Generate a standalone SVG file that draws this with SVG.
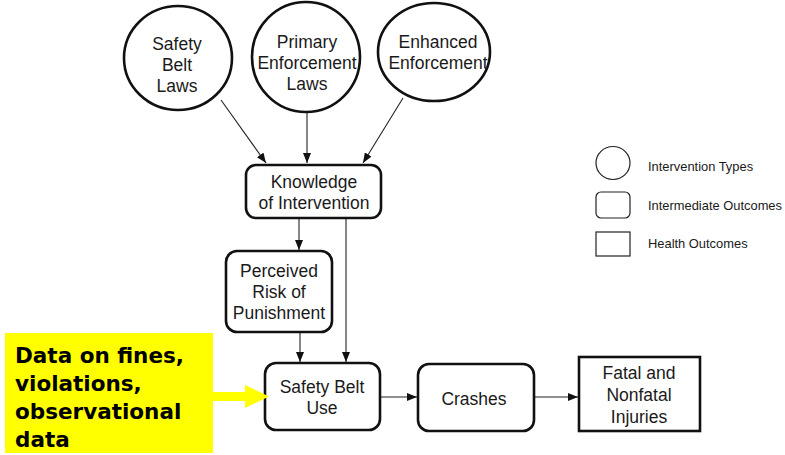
<svg xmlns="http://www.w3.org/2000/svg" width="785" height="455" viewBox="0 0 785 455">
  <style>
    .node { fill: #fff; stroke: #111; stroke-width: 2.6; }
    .leg { fill: #fff; stroke: #222; stroke-width: 1.2; }
    .lbl { font-family: "Liberation Sans", Arial, sans-serif; font-size: 17.5px; fill: #1a1a1a; text-anchor: middle; }
    .legtxt { font-family: "Liberation Sans", Arial, sans-serif; font-size: 12.9px; fill: #1a1a1a; }
    .edge { fill: none; stroke: #222; stroke-width: 1.1; marker-end: url(#head); }
    .note { font-family: "DejaVu Sans", Verdana, sans-serif; font-weight: bold; font-size: 21.5px; fill: #000; }
  </style>
  <defs>
    <marker id="head" viewBox="0 0 10 8" refX="10" refY="4" markerWidth="10" markerHeight="8" markerUnits="userSpaceOnUse" orient="auto">
      <path d="M0,0 L10,4 L0,8 Z" fill="#111"/>
    </marker>
  </defs>
  <rect width="785" height="455" fill="#fff"/>

  <!-- connectors -->
  <g id="connectors">
    <line class="edge" x1="221" y1="100" x2="266" y2="163"/>
    <line class="edge" x1="307" y1="113" x2="307" y2="163"/>
    <line class="edge" x1="403" y1="98" x2="363" y2="163"/>
    <line class="edge" x1="299" y1="218" x2="299" y2="250"/>
    <line class="edge" x1="300" y1="332" x2="300" y2="362"/>
    <line class="edge" x1="346" y1="218" x2="346" y2="362"/>
    <line class="edge" x1="380" y1="397" x2="417" y2="397"/>
    <line class="edge" x1="534" y1="397" x2="578" y2="397"/>
  </g>

  <!-- intervention types -->
  <g id="safety-belt-laws">
    <ellipse class="node" cx="178" cy="58" rx="54" ry="52" stroke-width="3"/>
    <text class="lbl" x="177" y="50">Safety</text>
    <text class="lbl" x="177" y="71">Belt</text>
    <text class="lbl" x="177" y="92">Laws</text>
  </g>
  <g id="primary-enforcement-laws">
    <ellipse class="node" cx="306" cy="57" rx="54" ry="55" stroke-width="3"/>
    <text class="lbl" x="307" y="48">Primary</text>
    <text class="lbl" x="307" y="69">Enforcement</text>
    <text class="lbl" x="307" y="90">Laws</text>
  </g>
  <g id="enhanced-enforcement">
    <ellipse class="node" cx="434" cy="52" rx="56" ry="49" stroke-width="3"/>
    <text class="lbl" x="438" y="48">Enhanced</text>
    <text class="lbl" x="438" y="69">Enforcement</text>
  </g>

  <!-- intermediate outcomes -->
  <g id="knowledge-of-intervention">
    <rect class="node" x="246" y="165" width="135" height="53" rx="10"/>
    <text class="lbl" x="314" y="188">Knowledge</text>
    <text class="lbl" x="314" y="209">of Intervention</text>
  </g>
  <g id="perceived-risk">
    <rect class="node" x="226" y="251" width="106" height="81" rx="11"/>
    <text class="lbl" x="279" y="277">Perceived</text>
    <text class="lbl" x="279" y="298">Risk of</text>
    <text class="lbl" x="279" y="319">Punishment</text>
  </g>
  <g id="safety-belt-use">
    <rect class="node" x="265" y="363" width="115" height="67" rx="11"/>
    <text class="lbl" x="322" y="393">Safety Belt</text>
    <text class="lbl" x="322" y="414">Use</text>
  </g>
  <g id="crashes">
    <rect class="node" x="418" y="364" width="116" height="67" rx="11"/>
    <text class="lbl" x="474" y="405">Crashes</text>
  </g>

  <!-- health outcome -->
  <g id="fatal-nonfatal-injuries">
    <rect class="node" x="579" y="357" width="121" height="74" stroke-width="3"/>
    <text class="lbl" x="639" y="379">Fatal and</text>
    <text class="lbl" x="639" y="401">Nonfatal</text>
    <text class="lbl" x="639" y="423">Injuries</text>
  </g>

  <!-- legend -->
  <g id="legend">
    <ellipse class="leg" cx="613" cy="163" rx="17" ry="16.5"/>
    <text class="legtxt" x="648" y="171">Intervention Types</text>
    <rect class="leg" x="596" y="192" width="34" height="26" rx="5"/>
    <text class="legtxt" x="648" y="210">Intermediate Outcomes</text>
    <rect class="leg" x="596" y="232" width="34" height="24"/>
    <text class="legtxt" x="648" y="248">Health Outcomes</text>
  </g>

  <!-- data source callout -->
  <g id="data-callout">
    <rect x="5" y="333" width="208" height="120" fill="#ffff00"/>
    <path d="M213,392 L245,392 L245,385 L269,396.5 L245,408 L245,401 L213,401 Z" fill="#ffff00"/>
    <text class="note" x="15" y="363">Data on fines,</text>
    <text class="note" x="15" y="391">violations,</text>
    <text class="note" x="15" y="419">observational</text>
    <text class="note" x="15" y="447">data</text>
  </g>
</svg>
